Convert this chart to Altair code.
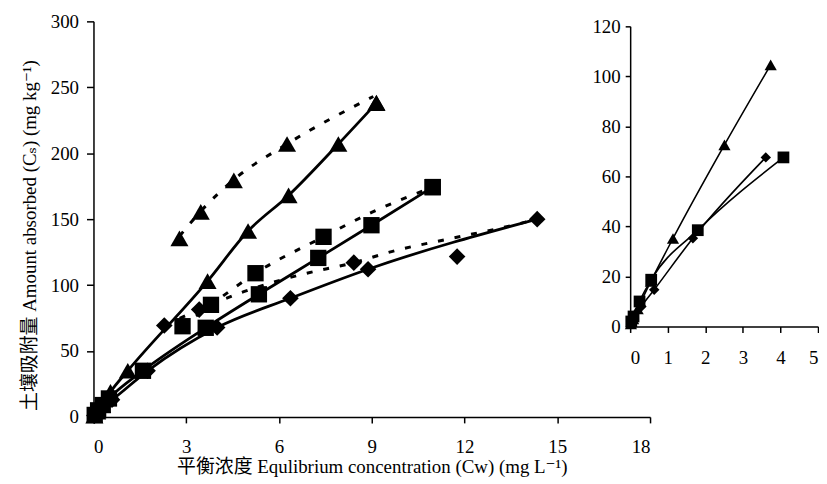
import altair as alt
import pandas as pd

# ---------------- main panel data ----------------
# solid-line series (markers + solid line)
tri_solid_x = [0.03, 0.12, 0.28, 0.55, 1.11, 3.69, 5.0, 6.31, 7.92, 9.15]
tri_solid_y = [1, 4, 9, 19, 35, 103, 141, 168, 207, 238]
sq_solid_x = [0.04, 0.15, 0.3, 0.5, 1.6, 3.63, 5.35, 7.27, 8.99, 10.97]
sq_solid_y = [1.5, 5, 9, 14, 35, 67.6, 93, 120.6, 145.4, 174.3]
dia_solid_x = [0.03, 0.12, 0.3, 0.6, 1.75, 4.0, 6.37, 8.88, 14.35]
dia_solid_y = [1, 3.5, 8, 13, 35, 67.8, 90, 112, 150]

# dashed-line series: markers
tri_dash_x = [2.78, 3.47, 4.54, 6.26, 9.15]
tri_dash_y = [135.4, 155.5, 179.4, 207, 238.4]
sq_dash_x = [2.88, 3.8, 5.24, 7.44, 10.97]
sq_dash_y = [68.8, 85, 109, 136.6, 174.3]
dia_dash_x = [2.29, 3.42, 8.42, 11.76]
dia_dash_y = [69.3, 81.4, 117, 121.6]

# dashed curves
tri_curve_x = [2.78, 3.47, 4.54, 6.26, 9.05]
tri_curve_y = [137, 156, 180, 207, 243]
sq_curve_x = [2.88, 3.8, 5.24, 7.44, 9.03, 10.97]
sq_curve_y = [68.8, 85, 109, 136.6, 155.5, 174.3]
dia_curve_x = [2.29, 3.42, 4.86, 6.69, 8.42, 9.74, 11.6, 13.4, 14.35]
dia_curve_y = [69.3, 81.4, 95, 107.8, 117, 126, 135.5, 144.5, 150]

# ---------------- inset data ----------------
in_tri_x = [0.02, 0.08, 0.2, 0.55, 1.14, 2.51, 3.74]
in_tri_y = [1, 3, 7, 18, 35.2, 72.6, 104.6]
in_sq_x = [0.03, 0.09, 0.25, 0.56, 1.8, 4.08]
in_sq_y = [2, 4, 10, 18.7, 38.5, 67.6]
in_dia_x = [0.03, 0.1, 0.3, 0.64, 1.67, 3.61]
in_dia_y = [1, 3, 8, 14.7, 35.3, 67.6]

main_x_ticks = [0, 3, 6, 9, 12, 15, 18]
main_y_ticks = [0, 50, 100, 150, 200, 250, 300]
inset_x_ticks = [0, 1, 2, 3, 4, 5]
inset_y_ticks = [0, 20, 40, 60, 80, 100, 120]


def frame(xs, ys, series):
    return pd.DataFrame({"x": xs, "y": ys, "series": series})


FONT = "Liberation Serif, DejaVu Serif, Noto Sans CJK SC"

solid_df = pd.concat([
    frame(tri_solid_x, tri_solid_y, "tri"),
    frame(sq_solid_x, sq_solid_y, "sq"),
    frame(dia_solid_x, dia_solid_y, "dia"),
])
curve_df = pd.concat([
    frame(tri_curve_x, tri_curve_y, "tri"),
    frame(sq_curve_x, sq_curve_y, "sq"),
    frame(dia_curve_x, dia_curve_y, "dia"),
])
tri_pts = pd.concat([frame(tri_solid_x, tri_solid_y, "tri"), frame(tri_dash_x, tri_dash_y, "tri")])
sq_pts = pd.concat([frame(sq_solid_x, sq_solid_y, "sq"), frame(sq_dash_x, sq_dash_y, "sq")])
dia_pts = pd.concat([frame(dia_solid_x, dia_solid_y, "dia"), frame(dia_dash_x, dia_dash_y, "dia")])

mx = alt.X("x:Q", scale=alt.Scale(domain=[0, 18], nice=False),
           axis=alt.Axis(values=main_x_ticks, grid=False, tickSize=6, labelPadding=15,
                         title="平衡浓度  Equlibrium concentration (Cw) (mg L⁻¹)",
                         titlePadding=1))
my = alt.Y("y:Q", scale=alt.Scale(domain=[0, 300], nice=False),
           axis=alt.Axis(values=main_y_ticks, grid=False, tickSize=7, labelPadding=8,
                         title="土壤吸附量 Amount absorbed (Cₛ) (mg kg⁻¹)",
                         titlePadding=11, titleY=215))

solid = alt.Chart(solid_df).mark_line(color="black", strokeWidth=2.8, interpolate="monotone").encode(
    x=mx, y=my, detail="series:N")
dashed = alt.Chart(curve_df).mark_line(color="black", strokeWidth=3, strokeDash=[6, 11],
                                       interpolate="monotone").encode(x=mx, y=my, detail="series:N")
p_tri = alt.Chart(tri_pts).mark_point(shape="triangle-up", size=330, filled=True, color="black",
                                      opacity=1).encode(x=mx, y=my)
p_sq = alt.Chart(sq_pts).mark_point(shape="square", size=270, filled=True, color="black",
                                    opacity=1).encode(x=mx, y=my)
p_dia = alt.Chart(dia_pts).mark_point(shape="diamond", size=280, filled=True, color="black",
                                      opacity=1).encode(x=mx, y=my)
main = alt.layer(solid, dashed, p_tri, p_sq, p_dia)

# ---------------- inset ----------------
ix = alt.X("x:Q", scale=alt.Scale(domain=[0, 5], range=[540, 729], nice=False),
           axis=alt.Axis(values=inset_x_ticks, grid=False, orient="bottom", offset=-91,
                         tickSize=6, labelPadding=16, title=None))
iy = alt.Y("y:Q", scale=alt.Scale(domain=[0, 120], range=[307, 5], nice=False),
           axis=alt.Axis(values=inset_y_ticks, grid=False, orient="left", offset=-540,
                         tickSize=5, labelPadding=5, title=None))

inset_df = pd.concat([
    frame(in_tri_x, in_tri_y, "tri"),
    frame(in_sq_x, in_sq_y, "sq"),
    frame(in_dia_x, in_dia_y, "dia"),
])
i_lines = alt.Chart(inset_df).mark_line(color="black", strokeWidth=1.6, interpolate="monotone").encode(
    x=ix, y=iy, detail="series:N")
i_tri = alt.Chart(frame(in_tri_x, in_tri_y, "tri")).mark_point(
    shape="triangle-up", size=150, filled=True, color="black", opacity=1).encode(x=ix, y=iy)
i_sq = alt.Chart(frame(in_sq_x, in_sq_y, "sq")).mark_point(
    shape="square", size=140, filled=True, color="black", opacity=1).encode(x=ix, y=iy)
i_dia = alt.Chart(frame(in_dia_x, in_dia_y, "dia")).mark_point(
    shape="diamond", size=110, filled=True, color="black", opacity=1).encode(x=ix, y=iy)
inset = alt.layer(i_lines, i_tri, i_sq, i_dia)

chart = alt.layer(main, inset).resolve_scale(x="independent", y="independent").properties(
    width=560, height=398,
    padding={"left": 12, "top": 3, "right": 0, "bottom": 0}
).configure_view(stroke=None).configure_axis(
    domainColor="black", tickColor="black", labelColor="black", titleColor="black",
    domainWidth=1.5, tickWidth=1.5, labelFont=FONT, titleFont=FONT,
    labelFontSize=19, titleFontSize=19, titleFontWeight="normal"
)

chart.save("out.html", embed_options={"renderer": "svg", "actions": False})
